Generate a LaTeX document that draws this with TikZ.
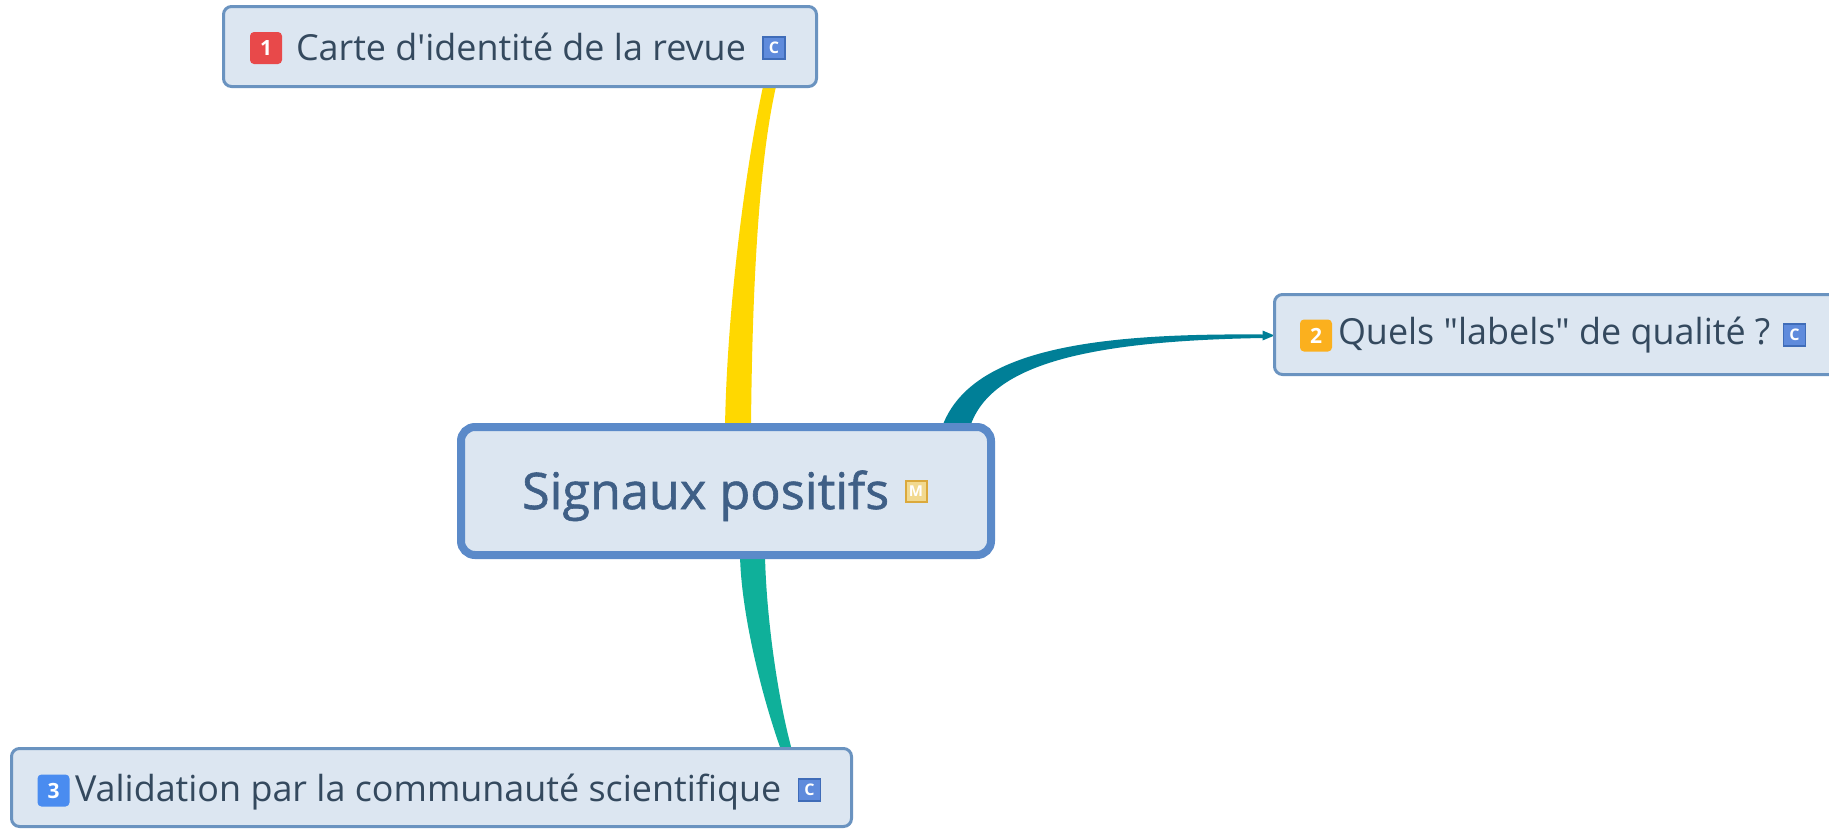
\documentclass[tikz,border=0pt]{standalone}
\usepackage{fontspec}
\setmainfont{Open Sans}
\newfontfamily\plainf{Open Sans}
\newfontfamily\mediumf[FakeBold=1.2]{Open Sans}
\usetikzlibrary{calc,backgrounds}
\definecolor{boxfill}{HTML}{DCE6F1}
\definecolor{mainedge}{HTML}{5B8AC9}
\definecolor{subedge}{HTML}{6A93C0}
\definecolor{subtext}{HTML}{34495E}
\definecolor{maintext}{HTML}{3F5F86}
\definecolor{linkyellow}{HTML}{FFD800}
\definecolor{linkblue}{HTML}{007F97}
\definecolor{linkgreen}{HTML}{0FB09A}
\definecolor{prioone}{HTML}{E8494A}
\definecolor{priotwo}{HTML}{FBB01E}
\definecolor{priothree}{HTML}{4A8CF0}
\definecolor{cfill}{HTML}{5F8BDC}
\definecolor{cedge}{HTML}{3F6CB8}
\definecolor{mfill}{HTML}{F2D98F}
\definecolor{medge}{HTML}{DBA93C}
\tikzset{
  x=1pt,y=-1pt,
  mainbox/.style={draw=mainedge,fill=boxfill,line width=8pt,rounded corners=14pt,outer sep=0pt,inner sep=0pt,minimum width=530pt,minimum height=128pt},
  subbox/.style={draw=subedge,fill=boxfill,line width=3pt,rounded corners=8pt,outer sep=0pt,inner sep=0pt,minimum height=80pt},
  subtxt/.style={anchor=base west,inner sep=0pt,outer sep=0pt,text=subtext,font=\plainf\fontsize{35.9}{36}\selectfont},
  maintxt/.style={anchor=base west,inner sep=0pt,outer sep=0pt,text=maintext,font=\mediumf\fontsize{50.4}{50}\selectfont},
  prio/.style={fill=#1,rounded corners=4pt,minimum size=32pt,inner sep=0pt,outer sep=0pt,text=white,font=\plainf\bfseries\fontsize{21}{21}\selectfont},
  cicon/.style={draw=cedge,fill=cfill,line width=1.5pt,minimum size=22pt,inner sep=0pt,outer sep=0pt,text=white,font=\plainf\bfseries\fontsize{16}{16}\selectfont},
  micon/.style={draw=medge,fill=mfill,line width=2pt,minimum size=21pt,inner sep=0pt,outer sep=0pt,text=white,font=\plainf\bfseries\fontsize{15}{15}\selectfont},
}
\begin{document}
\begin{tikzpicture}
\useasboundingbox (0,0) rectangle (1829,828);
\clip (0,0) rectangle (1829,828);
% boxes
\node[mainbox] (main) at (726,491) {};
\node[subbox,minimum width=593pt] (card) at (520,46.5) {};
\node[subbox,minimum width=600pt] (labels) at (1574.5,334.5) {};
\node[subbox,minimum width=840pt,minimum height=78pt] (valid) at (431.5,787.5) {};
% box contents
\node[maintxt] (maint) at (522,509) {Signaux positifs};
\node[micon] (mi) at (916,491.5) {M};
\node[prio=prioone] (p1) at (266,48) {1};
\node[subtxt] (cardt) at (296,60) {Carte d'identité de la revue};
\node[cicon] (c1) at (774,48) {C};
\node[prio=priotwo] (p2) at (1316,335.5) {2};
\node[subtxt] (labelst) at (1338,344) {Quels "labels" de qualité ?};
\node[cicon] (c2) at (1794.5,335) {C};
\node[prio=priothree] (p3) at (53.5,790.5) {3};
\node[subtxt] (validt) at (75,801) {Validation par la communauté scientifique};
\node[cicon] (c3) at (809.5,790) {C};
% connectors
\coordinate (ya) at ($(main.north)+(-1,0)$);
\coordinate (yb) at ($(main.north)+(25,0)$);
\coordinate (yc) at ($(card.south)+(256,0)$);
\coordinate (yd) at ($(card.south)+(243,0)$);
\coordinate (ba) at ($(main.north)+(216,0)$);
\coordinate (bb) at ($(main.north)+(244,0)$);
\coordinate (ta) at ($(labels.west)+(-12,-4)$);
\coordinate (tb) at ($(labels.west)+(-12,6)$);
\coordinate (tc) at ($(labels.west)+(0,1)$);
\coordinate (tu) at ($(labels.west)+(-12,0)$);
\coordinate (tv) at ($(labels.west)+(-12,3.5)$);
\coordinate (ga) at ($(main.south)+(14,0)$);
\coordinate (gb) at ($(main.south)+(39,0)$);
\coordinate (gc) at ($(valid.north)+(360,0)$);
\coordinate (gd) at ($(valid.north)+(349,0)$);
\begin{pgfonlayer}{background}
\fill[linkyellow] (ya) .. controls ($(ya)+(2,-117)$) and ($(yd)+(-18,83.5)$) .. (yd)
  -- (yc) .. controls ($(yc)+(-19,83.5)$) and ($(yb)+(1,-117)$) .. (yb) -- cycle;
\fill[linkblue] (ba) .. controls ($(ba)+(28,-77)$) and ($(tu)+(-172,-1.5)$) .. (tu)
  -- (ta) -- (tc) -- (tb) -- (tv) .. controls ($(tv)+(-177,3)$) and ($(bb)+(20,-62)$) .. (bb) -- cycle;
\fill[linkgreen] (ga) .. controls ($(ga)+(1,55)$) and ($(gd)+(-20.5,-58)$) .. (gd)
  -- (gc) .. controls ($(gc)+(-15.5,-58)$) and ($(gb)+(1,55)$) .. (gb) -- cycle;
\end{pgfonlayer}
\end{tikzpicture}
\end{document}
